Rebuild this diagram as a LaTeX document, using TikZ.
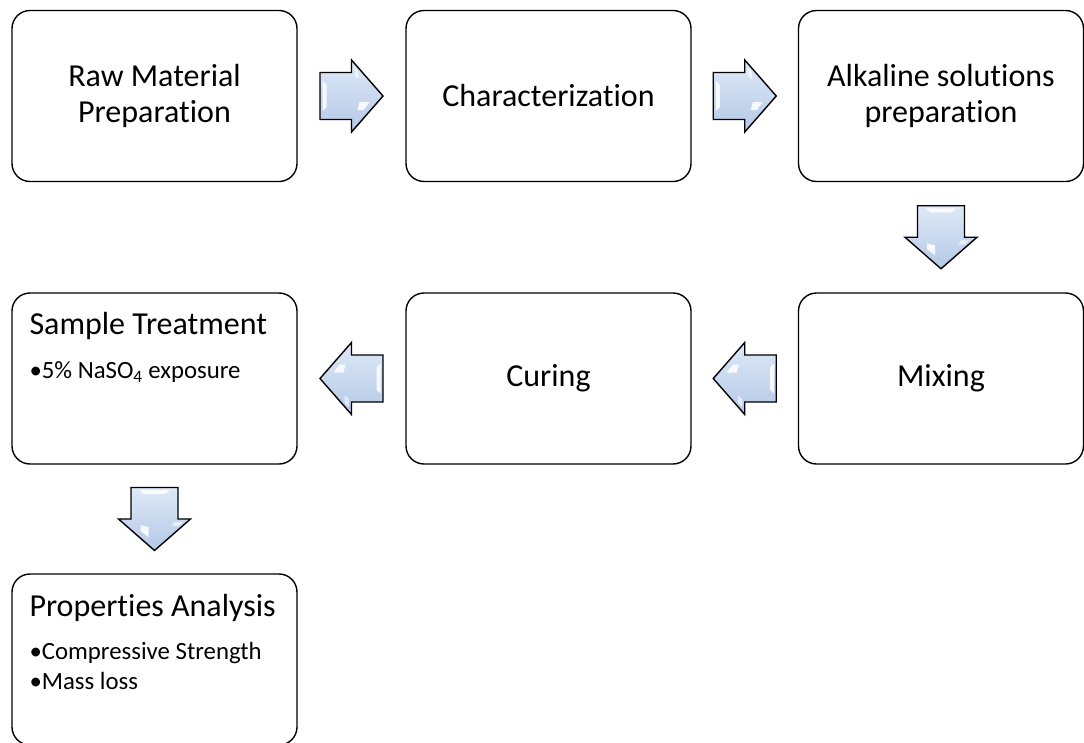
\documentclass[tikz,border=0pt]{standalone}
\usepackage{fontspec}
\setmainfont{Carlito}[Ligatures=CommonOff]
\usetikzlibrary{calc}
\newcommand{\bigtxt}{\fontsize{32}{36}\selectfont}
\newcommand{\smalltxt}{\fontsize{24.8}{30}\selectfont}
\definecolor{arrowlight}{RGB}{222,233,247}
\definecolor{arrowdark}{RGB}{180,200,230}
\tikzset{
  box/.style={draw, line width=1.4pt, rounded corners=18pt, minimum width=285pt,
    minimum height=171pt, inner sep=0pt, align=center, font=\bigtxt},
  headtxt/.style={anchor=base west, inner sep=0pt, font=\bigtxt},
  itemtxt/.style={anchor=base west, inner sep=0pt, font=\smalltxt},
  barrow/.pic={
    \draw[line width=1.4pt, line join=miter, top color=arrowlight, bottom color=arrowdark]
      (-31.5,-23.5) -- (0,-23.5) -- (0,-36) -- (31.5,0) -- (0,36) -- (0,23.5)
      -- (-31.5,23.5) -- cycle;
    \fill[white, opacity=0.85] (-29,-15) -- (-25,-11) -- (-25,11) -- (-29,15) -- cycle;
    \fill[white, opacity=0.85] (8,6) -- (18,6) -- (12,14) -- (6,14) -- cycle;
    \fill[white, opacity=0.6] (3,-28) -- (7,-24) -- (7,-17) -- (3,-20) -- cycle;
  }
}
\begin{document}
\begin{tikzpicture}[x=1pt, y=-1pt]
\useasboundingbox (0,0) rectangle (1084,742);
\clip (0,0) rectangle (1084,742);
% row 1
\node[box] (raw)  at (154.5,96) {Raw Material\\Preparation};
\node[box] (char) at (548.5,96) {Characterization};
\node[box] (alk)  at (941,96)   {Alkaline solutions\\preparation};
% row 2
\node[box] (treat) at (154.5,378.5) {};
\node[box] (cur)   at (548.5,378.5) {Curing};
\node[box] (mix)   at (941,378.5)   {Mixing};
% row 3
\node[box] (prop) at (154.5,659.5) {};
% texts
\node[headtxt] (treatH) at ($(treat.north west)+(18,42)$) {Sample Treatment};
\node[itemtxt] (treatI) at ($(treat.north west)+(18,86)$) {•5\% NaSO\textsubscript{4} exposure};
\node[headtxt] (propH) at ($(prop.north west)+(18,43)$) {Properties Analysis};
\node[itemtxt] (propI1) at ($(prop.north west)+(18,86)$) {•Compressive Strength};
\node[itemtxt] (propI2) at ($(prop.north west)+(18,116)$) {•Mass loss};
% arrows
\pic at ($(raw.east)!0.5!(char.west)$) {barrow};
\pic at ($(char.east)!0.5!(alk.west)$) {barrow};
\pic[rotate=-90] at ($(alk.south)!0.5!(mix.north)$) {barrow};
\pic[rotate=180] at ($(mix.west)!0.5!(cur.east)$) {barrow};
\pic[rotate=180] at ($(cur.west)!0.5!(treat.east)$) {barrow};
\pic[rotate=-90] at ($(treat.south)!0.5!(prop.north)$) {barrow};
\end{tikzpicture}
\end{document}
